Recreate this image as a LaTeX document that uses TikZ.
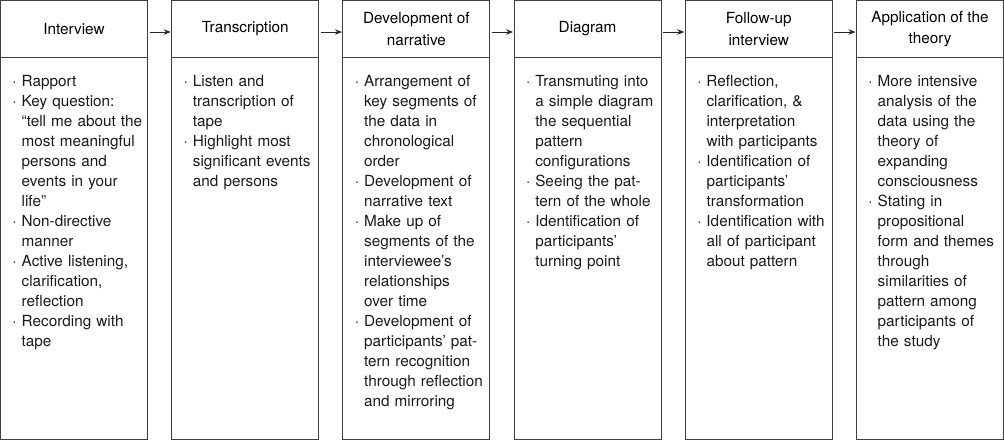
\documentclass[tikz,border=0pt]{standalone}
\usepackage{fontspec}
\setmainfont{TeX Gyre Heros}
\usetikzlibrary{arrows.meta,positioning}

\newcommand{\bul}{\leavevmode\llap{\textperiodcentered\hspace{5pt}}}

\begin{document}
\begin{tikzpicture}[
    headbox/.style={
    draw=black!75,
    line width=0.9pt,
    outer sep=0pt,
    minimum width=147pt,
    minimum height=57pt,
    inner sep=0pt,
    align=center,
    font=\fontsize{15.3}{21.5}\selectfont},
    bodybox/.style={
    draw=black!75,
    line width=0.9pt,
    outer sep=0pt,
    minimum width=147pt,
    minimum height=382pt,
    inner sep=0pt},
    bodytext/.style={
    anchor=base west,
    inner sep=0pt,
    text width=126pt,
    align=left,
    text=black!90,
    font=\fontsize{15.3}{20}\selectfont},
    myarrow/.style={-{Stealth[length=7pt,width=5.5pt]},line width=0.8pt,draw=black!85,
    shorten <=2pt, shorten >=1pt},
    node distance=0pt and 24.2pt
    ]
    \useasboundingbox (0,0) rectangle (1004pt,-440pt);

    % header boxes
    \node[headbox] (h1) at (74pt,-29pt) {Interview};
    \node[headbox, right= of h1] (h2) {Transcription};
    \node[headbox, right= of h2] (h3) {Development of\\narrative};
    \node[headbox, right= of h3] (h4) {Diagram};
    \node[headbox, right= of h4] (h5) {Follow-up\\interview};
    \node[headbox, right= of h5] (h6) {Application of the\\theory};

    % body boxes
    \foreach \i in {1,...,6}
        \node[bodybox, below= of h\i] (b\i) {};

    \foreach \i/\j in {1/2,2/3,3/4,4/5,5/6}
        \draw[myarrow] ([yshift=-3pt]h\i.east) -- ([yshift=-3pt]h\j.west);

    % body texts
    \node[bodytext] (t1) at ([xshift=21pt,yshift=-29pt]b1.north west) {%
        \bul Rapport\\
        \bul Key question:\\ “tell me about the\\ most meaningful\\ persons and\\ events in your\\ life”\\
        \bul Non-directive\\ manner\\
        \bul Active listening,\\ clarification,\\ reflection\\
        \bul Recording with\\ tape};
    \node[bodytext] (t2) at ([xshift=21pt,yshift=-29pt]b2.north west) {%
        \bul Listen and\\ transcription of\\ tape\\
        \bul Highlight most\\ significant events\\ and persons};
    \node[bodytext] (t3) at ([xshift=21pt,yshift=-29pt]b3.north west) {%
        \bul Arrangement of\\ key segments of\\ the data in\\ chronological\\ order\\
        \bul Development of\\ narrative text\\
        \bul Make up of\\ segments of the\\ interviewee’s\\ relationships\\ over time\\
        \bul Development of\\ participants’ pat-\\ tern recognition\\ through reflection\\ and mirroring};
    \node[bodytext] (t4) at ([xshift=21pt,yshift=-29pt]b4.north west) {%
        \bul Transmuting into\\ a simple diagram\\ the sequential\\ pattern\\ configurations\\
        \bul Seeing the pat-\\ tern of the whole\\
        \bul Identification of\\ participants’\\ turning point};
    \node[bodytext] (t5) at ([xshift=21pt,yshift=-29pt]b5.north west) {%
        \bul Reflection,\\ clarification, \&\\ interpretation\\ with participants\\
        \bul Identification of\\ participants’\\ transformation\\
        \bul Identification with\\ all of participant\\ about pattern};
    \node[bodytext] (t6) at ([xshift=21pt,yshift=-29pt]b6.north west) {%
        \bul More intensive\\ analysis of the\\ data using the\\ theory of\\ expanding\\ consciousness\\
        \bul Stating in\\ propositional\\ form and themes\\ through\\ similarities of\\ pattern among\\ participants of\\ the study};
\end{tikzpicture}
\end{document}
